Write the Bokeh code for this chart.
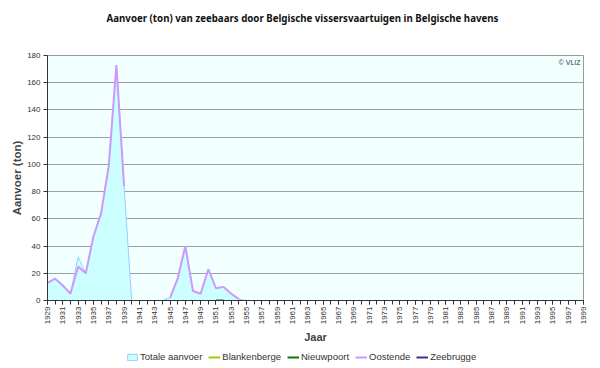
import math
from bokeh.plotting import figure
from bokeh.layouts import column
from bokeh.models import (Range1d, FixedTicker, Legend, LegendItem, Label, ColumnDataSource)
from bokeh.embed import file_html
from bokeh.resources import INLINE

nan = float("nan")

years = list(range(1929, 2000))
tick_years = list(range(1929, 2000, 2))
y_ticks = [0, 20, 40, 60, 80, 100, 120, 140, 160, 180]

# Totale aanvoer 1929..1955 (ton)
totale_years = list(range(1929, 1956))
totale = [13, 16, 11, 5, 32, 20, 47, 64, 99, 173, 84,
          0, 0, 0, 0, 0,
          2, 16, 40, 7, 5, 23, 9, 10, 5, 1, 0]

# Oostende 1929..1954 (missing = nan)
oostende_years = list(range(1929, 1955))
oostende = [13, 16, 11, 5, 25, 20, 47, 64, 99, 173, 84,
            nan, nan, nan, nan, nan,
            2, 16, 40, 7, 5, 23, 9, 10, 5, 1]

nieuwpoort_years = [1951, 1952]
nieuwpoort = [0, 0]

blankenberge_years = []
blankenberge = []
zeebrugge_years = []
zeebrugge = []

title_text = "Aanvoer (ton) van zeebaars door Belgische vissersvaartuigen in Belgische havens"
series_names = ["Totale aanvoer", "Blankenberge", "Nieuwpoort", "Oostende", "Zeebrugge"]

C_TOT_FILL = "#CCFFFF"
C_TOT_LINE = "#99CCFF"
C_BL = "#99CC00"
C_NI = "#008000"
C_OO = "#CC99FF"
C_ZE = "#333399"


def blank_fig(h):
    # frame gets aligned with the main chart's frame (x 47..583) by the column layout
    f = figure(width=600, height=h, output_backend="svg", toolbar_location=None,
               title=None, x_axis_location=None, y_axis_location=None,
               x_range=Range1d(47, 583), y_range=Range1d(0, h),
               min_border=0, min_border_left=0, min_border_right=0,
               min_border_top=0, min_border_bottom=0)
    f.outline_line_color = None
    f.background_fill_color = "white"
    f.border_fill_color = "white"
    f.xgrid.visible = False
    f.ygrid.visible = False
    return f


# ---- title strip ----
top = blank_fig(40)
top.add_layout(Label(x=302, y=22, text=title_text, text_align="center",
                     text_baseline="middle", text_font="Noto Sans",
                     text_font_size="9.7px", text_font_style="bold",
                     text_color="#111111"))

# ---- main chart ----
p = figure(width=600, height=310, output_backend="svg", toolbar_location=None,
           title=None,
           x_range=Range1d(1929, 1999), y_range=Range1d(0, 180),
           min_border_left=47, min_border_right=17, min_border_top=15, min_border_bottom=50)

p.background_fill_color = "#F2FFFF"
p.border_fill_color = "white"
p.outline_line_color = "#999999"

src_t = ColumnDataSource(dict(x=totale_years, y=totale, z=[0]*len(totale)))
p.varea(x="x", y1="z", y2="y", source=src_t, fill_color=C_TOT_FILL)
p.line(x="x", y="y", source=src_t, line_color=C_TOT_LINE, line_width=1)

p.line(blankenberge_years, blankenberge, line_color=C_BL, line_width=2)
p.line(nieuwpoort_years, nieuwpoort, line_color=C_NI, line_width=2)
p.line(oostende_years, oostende, line_color=C_OO, line_width=2)
p.line(zeebrugge_years, zeebrugge, line_color=C_ZE, line_width=2)

xa = p.xaxis[0]
xa.ticker = FixedTicker(ticks=tick_years, minor_ticks=years)
xa.major_label_orientation = math.pi / 2
xa.major_label_text_font = "Liberation Sans"
xa.major_label_text_font_size = "8px"
xa.major_label_text_color = "#333333"
xa.major_tick_out = 4
xa.major_tick_in = 0
xa.minor_tick_out = 4
xa.minor_tick_in = 0
xa.major_label_standoff = 2
xa.axis_label = "Jaar"
xa.axis_label_text_font = "Liberation Sans"
xa.axis_label_text_font_size = "11px"
xa.axis_label_text_font_style = "bold"
xa.axis_label_standoff = 4
xa.axis_line_color = "#333333"
xa.major_tick_line_color = "#333333"
xa.minor_tick_line_color = "#333333"

ya = p.yaxis[0]
ya.ticker = FixedTicker(ticks=y_ticks)
ya.major_label_text_font = "Liberation Sans"
ya.major_label_text_font_size = "8px"
ya.major_label_text_color = "#333333"
ya.major_tick_out = 4
ya.major_tick_in = 0
ya.minor_tick_out = 0
ya.minor_tick_in = 0
ya.major_label_standoff = 3
ya.axis_label = "Aanvoer (ton)"
ya.axis_label_text_font = "Liberation Sans"
ya.axis_label_text_font_size = "11.5px"
ya.axis_label_text_font_style = "bold"
ya.axis_label_standoff = 1
ya.axis_line_color = "#333333"
ya.major_tick_line_color = "#333333"

p.xgrid.grid_line_color = None
p.ygrid.grid_line_color = "#A0A0A0"
p.ygrid.ticker = FixedTicker(ticks=y_ticks)

p.add_layout(Label(x=1999, y=180, text="\u00a9 VLIZ", x_offset=-3, y_offset=-3,
                   text_align="right", text_baseline="top",
                   text_font="Liberation Sans", text_font_size="7px",
                   text_color="#333333"))

# ---- legend strip (proxy renderers placed outside the visible range) ----
bot = blank_fig(18)
lr_tot = bot.quad(left=[-10], right=[-9], top=[-10], bottom=[-11],
                  fill_color=C_TOT_FILL, line_color=C_TOT_LINE)
lr_bl = bot.line([-10, -9], [-10, -10], line_color=C_BL, line_width=2)
lr_ni = bot.line([-10, -9], [-10, -10], line_color=C_NI, line_width=2)
lr_oo = bot.line([-10, -9], [-10, -10], line_color=C_OO, line_width=2)
lr_ze = bot.line([-10, -9], [-10, -10], line_color=C_ZE, line_width=2)

legend = Legend(items=[LegendItem(label=n, renderers=[r]) for n, r in
                       zip(series_names, [lr_tot, lr_bl, lr_ni, lr_oo, lr_ze])],
                orientation="horizontal", location=(79, 6))
legend.label_text_font = "Liberation Sans"
legend.label_text_font_size = "9.5px"
legend.label_text_color = "#333333"
legend.glyph_width = 12
legend.glyph_height = 8
legend.label_standoff = 2
legend.spacing = 6
legend.padding = 0
legend.margin = 0
legend.border_line_color = None
legend.background_fill_alpha = 0
legend.label_height = 10
bot.add_layout(legend, "center")

layout = column(top, p, bot, spacing=0)

open("out.html", "w").write(file_html(layout, INLINE))
